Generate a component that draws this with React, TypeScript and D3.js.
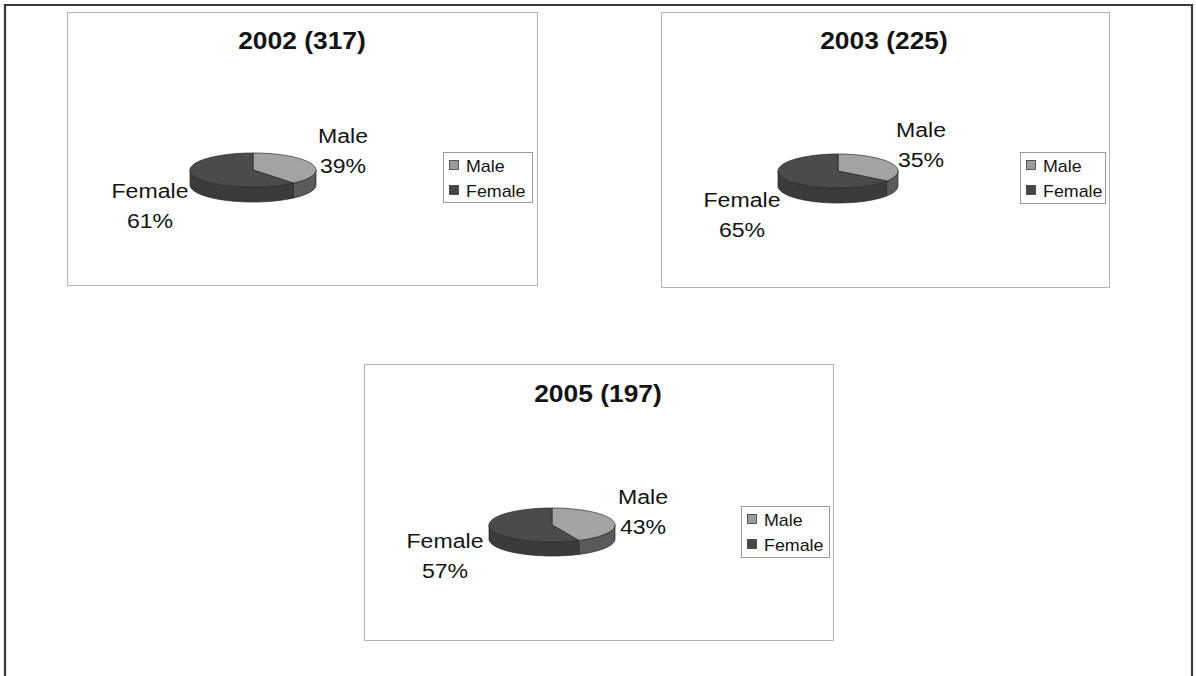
import React from "react";
import * as d3 from "d3";

// Survey respondents by gender, one 3D pie per year
const panelTitles = ["2002 (317)", "2003 (225)", "2005 (197)"];
const categories = ["Male", "Female"];
const malePct = [39, 35, 43];
const femalePct = [61, 65, 57];

const W = 1196;
const H = 676;
const FONT = "'Liberation Sans', Arial, sans-serif";

const topColors: Record<string, string> = { Male: "#a3a3a3", Female: "#4b4b4b" };
const sideColors: Record<string, string> = { Male: "#5a5a5a", Female: "#3b3b3b" };
const legendColors: Record<string, string> = { Male: "#9c9c9c", Female: "#464646" };

type Layout = {
  box: [number, number, number, number];
  title: [number, number];
  pie: { cx: number; cy: number; rx: number; ry: number; depth: number };
  maleLabel: [number, number];
  femaleLabel: [number, number];
  legend: [number, number, number, number];
};

const layouts: Layout[] = [
  {
    box: [67, 12, 470, 273],
    title: [302, 49],
    pie: { cx: 253, cy: 170, rx: 63, ry: 17, depth: 15 },
    maleLabel: [343, 143],
    femaleLabel: [150, 198],
    legend: [443, 152, 89, 50],
  },
  {
    box: [661, 12, 448, 275],
    title: [884, 49],
    pie: { cx: 838, cy: 171, rx: 60, ry: 17, depth: 15 },
    maleLabel: [921, 137],
    femaleLabel: [742, 207],
    legend: [1020, 152, 85, 51],
  },
  {
    box: [364, 364, 469, 276],
    title: [598, 402],
    pie: { cx: 552, cy: 525, rx: 63, ry: 17, depth: 14 },
    maleLabel: [643, 504],
    femaleLabel: [445, 548],
    legend: [741, 506, 88, 51],
  },
];

const line = d3.line<[number, number]>();

function ellipsePts(
  a0: number,
  a1: number,
  p: Layout["pie"],
  dy: number
): [number, number][] {
  const n = Math.max(2, Math.ceil(Math.abs(a1 - a0) / 0.03));
  return d3.range(n + 1).map((i) => {
    const a = a0 + ((a1 - a0) * i) / n;
    return [p.cx + p.rx * Math.sin(a), p.cy - p.ry * Math.cos(a) + dy] as [number, number];
  });
}

function SText({
  x,
  y,
  text,
  size,
  weight = 400,
  anchor = "middle",
  sx = 1.1,
}: {
  x: number;
  y: number;
  text: string;
  size: number;
  weight?: number;
  anchor?: "start" | "middle" | "end";
  sx?: number;
}) {
  return (
    <text
      transform={`translate(${x},${y}) scale(${sx},1)`}
      fontFamily={FONT}
      fontSize={size}
      fontWeight={weight}
      textAnchor={anchor}
      fill="#141414"
    >
      {text}
    </text>
  );
}

function PiePanel({ idx }: { idx: number }) {
  const L = layouts[idx];
  const values = [malePct[idx], femalePct[idx]];
  const arcs = d3
    .pie<number>()
    .value((d) => d)
    .sort(null)(values);
  const p = L.pie;
  const [bx, by, bw, bh] = L.box;
  const [lx, ly, lw, lh] = L.legend;

  const sides = arcs.map((a, i) => {
    const s = Math.max(a.startAngle, Math.PI / 2);
    const e = Math.min(a.endAngle, (3 * Math.PI) / 2);
    if (s >= e) return null;
    const topPts = ellipsePts(s, e, p, 0);
    const botPts = ellipsePts(e, s, p, p.depth);
    return (
      <path
        key={"s" + i}
        d={line([...topPts, ...botPts]) + "Z"}
        fill={sideColors[categories[i]]}
        stroke="#262626"
        strokeWidth={0.7}
      />
    );
  });

  const tops = arcs.map((a, i) => {
    const pts: [number, number][] = [[p.cx, p.cy], ...ellipsePts(a.startAngle, a.endAngle, p, 0)];
    return (
      <path
        key={"t" + i}
        d={line(pts) + "Z"}
        fill={topColors[categories[i]]}
        stroke="#262626"
        strokeWidth={0.7}
      />
    );
  });

  return (
    <g>
      <rect x={bx + 0.5} y={by + 0.5} width={bw} height={bh} fill="#fff" stroke="#b4b4b4" strokeWidth={1} />
      <SText x={L.title[0]} y={L.title[1]} text={panelTitles[idx]} size={24} weight={700} />
      {sides}
      {tops}
      <SText x={L.maleLabel[0]} y={L.maleLabel[1]} text={categories[0]} size={21} />
      <SText x={L.maleLabel[0]} y={L.maleLabel[1] + 30} text={`${malePct[idx]}%`} size={21} />
      <SText x={L.femaleLabel[0]} y={L.femaleLabel[1]} text={categories[1]} size={21} />
      <SText x={L.femaleLabel[0]} y={L.femaleLabel[1] + 30} text={`${femalePct[idx]}%`} size={21} />
      <rect x={lx + 0.5} y={ly + 0.5} width={lw} height={lh} fill="#fff" stroke="#9a9a9a" strokeWidth={1} />
      {categories.map((c, i) => {
        const base = ly + 20 + i * 25;
        return (
          <g key={c}>
            <rect
              x={lx + 6.5}
              y={base - 11.5}
              width={9}
              height={9}
              fill={legendColors[c]}
              stroke="#3a3a3a"
              strokeWidth={0.8}
            />
            <SText x={lx + 23} y={base} text={c} size={17} anchor="start" sx={1.05} />
          </g>
        );
      })}
    </g>
  );
}

export default function App() {
  return (
    <svg
      width={W}
      height={H}
      viewBox={`0 0 ${W} ${H}`}
      style={{ position: "absolute", left: 0, top: 0, background: "#fff" }}
    >
      <rect width={W} height={H} fill="#fff" />
      <path d={`M5,${H + 4} V5 H1192 V${H + 4}`} fill="none" stroke="#3a3a3a" strokeWidth={2.2} />
      {panelTitles.map((_, i) => (
        <PiePanel key={i} idx={i} />
      ))}
    </svg>
  );
}
